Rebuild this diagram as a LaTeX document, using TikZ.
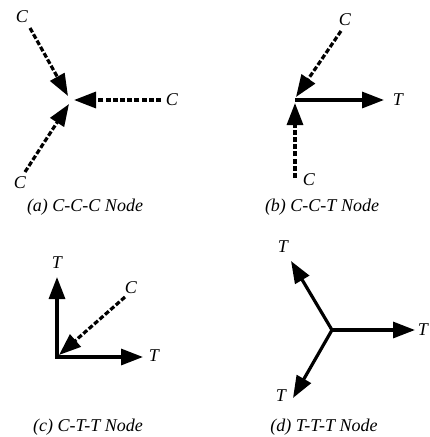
\documentclass[tikz,border=0pt]{standalone}
\usepackage{fontspec}
\setmainfont{Liberation Serif}
\usetikzlibrary{arrows.meta}
\tikzset{
  lbl/.style={font=\fontsize{18}{20}\selectfont\itshape, inner sep=0pt},
  captxt/.style={font=\fontsize{18}{20}\selectfont\itshape, inner sep=0pt},
  comp/.style={line width=3.2pt, dash pattern=on 5pt off 2.2pt, -{Triangle[length=22pt,width=16pt]}},
  tens/.style={line width=3.2pt, -{Triangle[length=22pt,width=16pt]}},
}
\begin{document}
\begin{tikzpicture}[x=1pt,y=-1pt]
\useasboundingbox (0,0) rectangle (429,437);
% ---------- (a) C-C-C ----------
\coordinate (ac) at (70,100);
\node[lbl] (a1) at (22,17) {C};
\node[lbl] (a2) at (172,100) {C};
\node[lbl] (a3) at (20,183) {C};
\coordinate (a1s) at (30,28);
\coordinate (a2s) at (161,100);
\coordinate (a3s) at (25,172);
\coordinate (a1e) at (68,96);
\coordinate (a2e) at (74,100);
\coordinate (a3e) at (69,104);
\draw[comp] (a1s) -- (a1e);
\draw[comp] (a2s) -- (a2e);
\draw[comp] (a3s) -- (a3e);
\node[captxt] (capa) at (85,207) {(a) C-C-C Node};
% ---------- (b) C-C-T ----------
\coordinate (bc) at (295,100);
\node[lbl] (b1) at (345,20) {C};
\node[lbl] (b2) at (398,100) {T};
\node[lbl] (b3) at (309,180) {C};
\coordinate (b1s) at (341,31);
\coordinate (b1e) at (296,97);
\coordinate (b2e) at (384,100);
\coordinate (b3s) at (295,178);
\coordinate (b3e) at (295,103);
\draw[comp] (b1s) -- (b1e);
\draw[tens] (bc) -- (b2e);
\draw[comp] (b3s) -- (b3e);
\node[captxt] (capb) at (322,207) {(b) C-C-T Node};
% ---------- (c) C-T-T ----------
\coordinate (cc) at (57,357);
\node[lbl] (c1) at (57,263) {T};
\node[lbl] (c2) at (154,356) {T};
\node[lbl] (c3) at (131,288) {C};
\coordinate (c1e) at (57,277);
\coordinate (c2e) at (143,357);
\coordinate (c3s) at (125,297);
\coordinate (c3e) at (59,355);
\draw[tens] ([yshift=1.6pt]cc) -- (c1e);
\draw[tens] ([xshift=-1.6pt]cc) -- (c2e);
\draw[comp] (c3s) -- (c3e);
\node[captxt] (capc) at (88,427) {(c) C-T-T Node};
% ---------- (d) T-T-T ----------
\coordinate (dc) at (332,330);
\node[lbl] (d1) at (423,330) {T};
\node[lbl] (d2) at (283,247) {T};
\node[lbl] (d3) at (281,396) {T};
\coordinate (d1e) at (415,330);
\coordinate (d2e) at (291,261);
\coordinate (d3e) at (293,398);
\draw[tens] (dc) -- (d1e);
\draw[tens] (dc) -- (d2e);
\draw[tens] (dc) -- (d3e);
\node[captxt] (capd) at (324,427) {(d) T-T-T Node};
\end{tikzpicture}
\end{document}
